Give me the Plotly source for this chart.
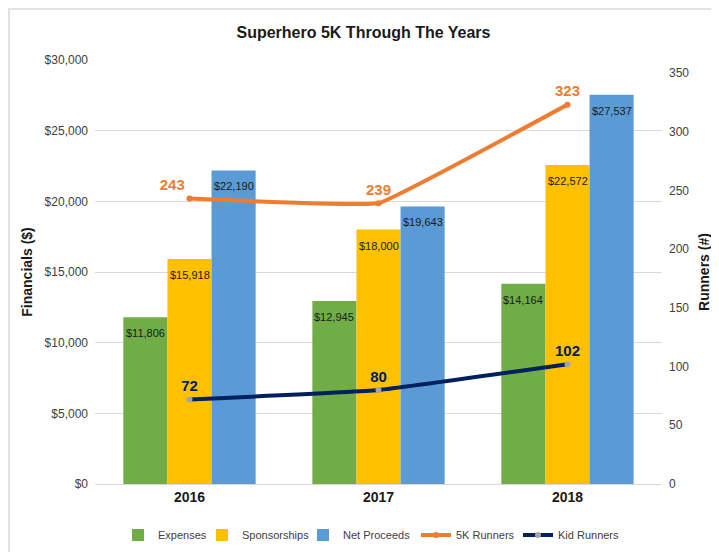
import plotly.graph_objects as go

years = ["2016", "2017", "2018"]
expenses = [11806, 12945, 14164]
sponsorships = [15918, 18000, 22572]
net_proceeds = [22190, 19643, 27537]
runners_5k = [243, 239, 323]
kid_runners = [72, 80, 102]

FONT = "Liberation Sans Narrow, Liberation Sans, Arial"

# page body has an 8px default margin, so the figure is placed at (8, 8)
L, T, PW, PH = 87, 52, 567, 424
W, H = 711, 544
BARGAP = 0.3

bar_series = [("Expenses", expenses, "#70AD47"),
              ("Sponsorships", sponsorships, "#FFC000"),
              ("Net Proceeds", net_proceeds, "#5B9BD5")]

# legend item text starts (page px)
legend_text_x = [158, 242, 343, 456, 558]

def legx(px):
    return (px - 40 - 8 - L) / PW

fig = go.Figure()
annotations = []
nb = len(bar_series)
bw = (1 - BARGAP) / nb
for k, (name, vals, col) in enumerate(bar_series):
    lg = "legend" if k == 0 else f"legend{k + 1}"
    fig.add_trace(go.Bar(
        x=years, y=vals, name=name, marker=dict(color=col, line=dict(width=0)),
        legend=lg,
    ))
    off = (k - (nb - 1) / 2) * bw
    for i, v in enumerate(vals):
        annotations.append(dict(
            x=i + off, y=v, xref="x", yref="y", text=f"${v:,}", showarrow=False,
            yanchor="middle", yshift=-16,
            font=dict(family=FONT, size=11, color="#1a1a1a")))

fig.add_trace(go.Scatter(
    x=years, y=runners_5k, name="5K Runners", yaxis="y2", legend="legend4",
    mode="lines+markers+text",
    line=dict(color="#ED7D31", width=4, shape="spline", smoothing=0.2),
    marker=dict(color="#ED7D31", size=6),
    text=[str(v) for v in runners_5k],
    textposition=["top left", "top center", "top center"],
    textfont=dict(family=FONT, size=15, color="#ED7D31", weight="bold"),
))
fig.add_trace(go.Scatter(
    x=years, y=kid_runners, name="Kid Runners", yaxis="y2", legend="legend5",
    mode="lines+markers+text",
    line=dict(color="#002060", width=4, shape="spline", smoothing=0.3),
    marker=dict(color="#A5A5A5", size=6),
    text=[str(v) for v in kid_runners], textposition="top center",
    textfont=dict(family=FONT, size=15, color="#002060", weight="bold"),
))

def leg(px):
    return dict(orientation="h", x=legx(px), xanchor="left", y=-51 / PH, yanchor="middle",
                font=dict(family=FONT, size=11, color="#404040"), itemwidth=30,
                bgcolor="rgba(0,0,0,0)", borderwidth=0)

layout_legends = {("legend" if i == 0 else f"legend{i + 1}"): leg(px)
                  for i, px in enumerate(legend_text_x)}

fig.update_layout(
    width=W, height=H,
    margin=dict(l=L, r=W - L - PW, t=T, b=H - T - PH, autoexpand=False),
    paper_bgcolor="white", plot_bgcolor="white",
    font=dict(family=FONT, size=12, color="#404040"),
    title=dict(text="<b>Superhero 5K Through The Years</b>", x=0.5, xanchor="center",
               y=1 - 24 / H, yanchor="middle", font=dict(family=FONT, size=16, color="#1a1a1a")),
    barmode="group", bargap=BARGAP, bargroupgap=0,
    xaxis=dict(showgrid=False, showline=True, linecolor="#D9D9D9", linewidth=1,
               automargin=False,
               tickfont=dict(family=FONT, size=14, color="#1a1a1a", weight="bold"), ticks=""),
    yaxis=dict(range=[0, 30000], dtick=5000, tickprefix="$", tickformat=",",
               showgrid=True, gridcolor="#D9D9D9", zeroline=False, automargin=False,
               ticklabelstandoff=6,
               tickfont=dict(family=FONT, size=12, color="#404040"),
               title=dict(text="<b>Financials ($)</b>", standoff=8,
                          font=dict(family=FONT, size=14, color="#1a1a1a"))),
    yaxis2=dict(range=[0, 361], tickvals=[0, 50, 100, 150, 200, 250, 300, 350],
                overlaying="y", side="right",
                showgrid=False, zeroline=False, automargin=False,
                ticklabelstandoff=6,
                tickfont=dict(family=FONT, size=12, color="#404040"),
                title=dict(text="<b>Runners (#)</b>", standoff=10,
                           font=dict(family=FONT, size=14, color="#1a1a1a"))),
    showlegend=True,
    annotations=annotations,
    shapes=[dict(type="rect", xref="paper", yref="paper",
                 x0=-(L - 1) / PW, x1=(W - L + 20) / PW,
                 y0=-(H - T - PH + 20) / PH, y1=1 + (T - 1) / PH,
                 line=dict(color="#D9D9D9", width=1.5),
                 fillcolor="rgba(0,0,0,0)", layer="below")],
    **layout_legends,
)

fig.write_html("out.html")
